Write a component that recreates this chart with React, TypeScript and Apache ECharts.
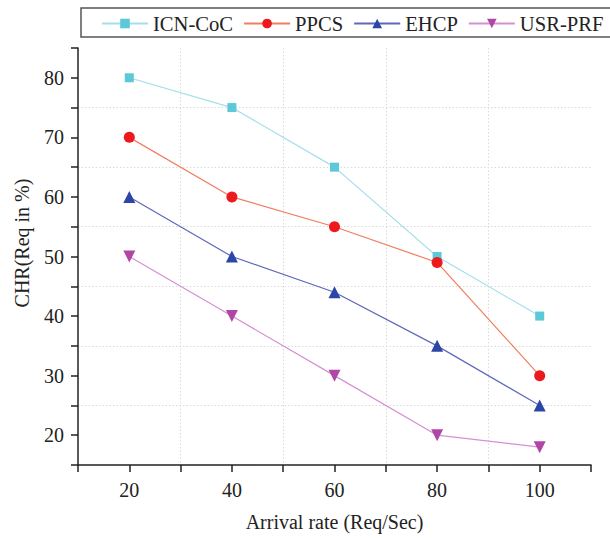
import React, { useEffect, useRef } from "react";
import * as echarts from "echarts";

const arrivalRates = [20, 40, 60, 80, 100];
const icnCoc = [80, 75, 65, 50, 40];
const ppcs = [70, 60, 55, 49, 30];
const ehcp = [60, 50, 44, 35, 25];
const usrPrf = [50, 40, 30, 20, 18];

const seriesNames = ["ICN-CoC", "PPCS", "EHCP", "USR-PRF"];
const xTickLabels = [20, 40, 60, 80, 100];
const yTickLabels = [20, 30, 40, 50, 60, 70, 80];

const FONT = "'Liberation Serif', 'Times New Roman', serif";

export default function App() {
  const ref = useRef<HTMLDivElement>(null);

  useEffect(() => {
    document.body.style.margin = "0";
    if (!ref.current) return;
    const chart = echarts.init(ref.current, undefined, { renderer: "svg" });

    const pair = (vals: number[]) => arrivalRates.map((x, i) => [x, vals[i]]);

    const mk = (
      name: string,
      vals: number[],
      lineColor: string,
      markColor: string,
      symbol: string,
      size: number
    ) => ({
      name,
      type: "line",
      xAxisIndex: 0,
      yAxisIndex: 0,
      data: pair(vals),
      symbol,
      symbolSize: size,
      lineStyle: { color: lineColor, width: 1.2 },
      itemStyle: { color: markColor },
      emphasis: { disabled: true },
      z: 5,
    });

    const axisLineStyle = { color: "#222", width: 1.5 };
    const gridLine = { color: "#dadada", type: [1.5, 2], width: 1 };

    chart.setOption({
      animation: false,
      backgroundColor: "#fff",
      textStyle: { fontFamily: FONT },
      grid: { left: 78, right: 19, top: 48, bottom: 73, containLabel: false },
      legend: {
        data: seriesNames,
        left: 101,
        top: 13,
        width: 700,
        padding: 0,
        itemGap: 10,
        itemWidth: 46,
        itemHeight: 12,
        textStyle: { fontFamily: FONT, fontSize: 20.6, color: "#222" },
      },
      graphic: [
        {
          type: "rect",
          shape: { x: 81, y: 8, width: 540, height: 29 },
          style: { fill: "none", stroke: "#555", lineWidth: 1.5 },
          z: 0,
        },
        {
          type: "text",
          x: 22,
          y: 243,
          rotation: Math.PI / 2,
          style: {
            text: "CHR(Req in %)",
            fontFamily: FONT,
            fontSize: 20,
            fill: "#222",
            align: "center",
            verticalAlign: "middle",
          },
        },
      ],
      xAxis: [
        {
          type: "value",
          min: 10,
          max: 110,
          interval: 10,
          name: "Arrival rate (Req/Sec)",
          nameLocation: "middle",
          nameGap: 47,
          nameTextStyle: { fontFamily: FONT, fontSize: 20, color: "#222" },
          axisLine: { show: true, onZero: false, lineStyle: axisLineStyle },
          axisTick: { show: true, inside: false, length: 7, lineStyle: axisLineStyle },
          axisLabel: {
            margin: 15,
            fontFamily: FONT,
            fontSize: 20,
            color: "#222",
            formatter: (v: number) => (xTickLabels.includes(v) ? String(v) : ""),
          },
          splitLine: { show: false },
        },
        {
          type: "value",
          min: 10,
          max: 110,
          interval: 20,
          position: "bottom",
          axisLine: { show: false },
          axisTick: { show: false },
          axisLabel: { show: false },
          splitLine: {
            show: true,
            showMinLine: false,
            showMaxLine: false,
            lineStyle: gridLine,
          },
        },
      ],
      yAxis: [
        {
          type: "value",
          min: 15,
          max: 85,
          interval: 5,
          axisLine: { show: true, onZero: false, lineStyle: axisLineStyle },
          axisTick: { show: true, inside: false, length: 7, lineStyle: axisLineStyle },
          axisLabel: {
            margin: 14,
            fontFamily: FONT,
            fontSize: 20,
            color: "#222",
            formatter: (v: number) => (yTickLabels.includes(v) ? String(v) : ""),
          },
          splitLine: { show: false },
        },
        {
          type: "value",
          min: 15,
          max: 85,
          interval: 10,
          position: "left",
          axisLine: { show: false },
          axisTick: { show: false },
          axisLabel: { show: false },
          splitLine: {
            show: true,
            showMinLine: false,
            showMaxLine: false,
            lineStyle: gridLine,
          },
        },
      ],
      series: [
        mk(seriesNames[0], icnCoc, "#a3dfe9", "#5cc8d8", "rect", 9),
        mk(seriesNames[1], ppcs, "#f27d5e", "#ec1a1c", "circle", 11),
        mk(seriesNames[2], ehcp, "#5d68b9", "#2b46a6", "triangle", 12),
        {
          ...mk(seriesNames[3], usrPrf, "#d590d3", "#b146a6", "triangle", 12),
          symbolRotate: 180,
        },
      ],
    });

    return () => chart.dispose();
  }, []);

  return <div ref={ref} style={{ width: 610, height: 538 }} />;
}
